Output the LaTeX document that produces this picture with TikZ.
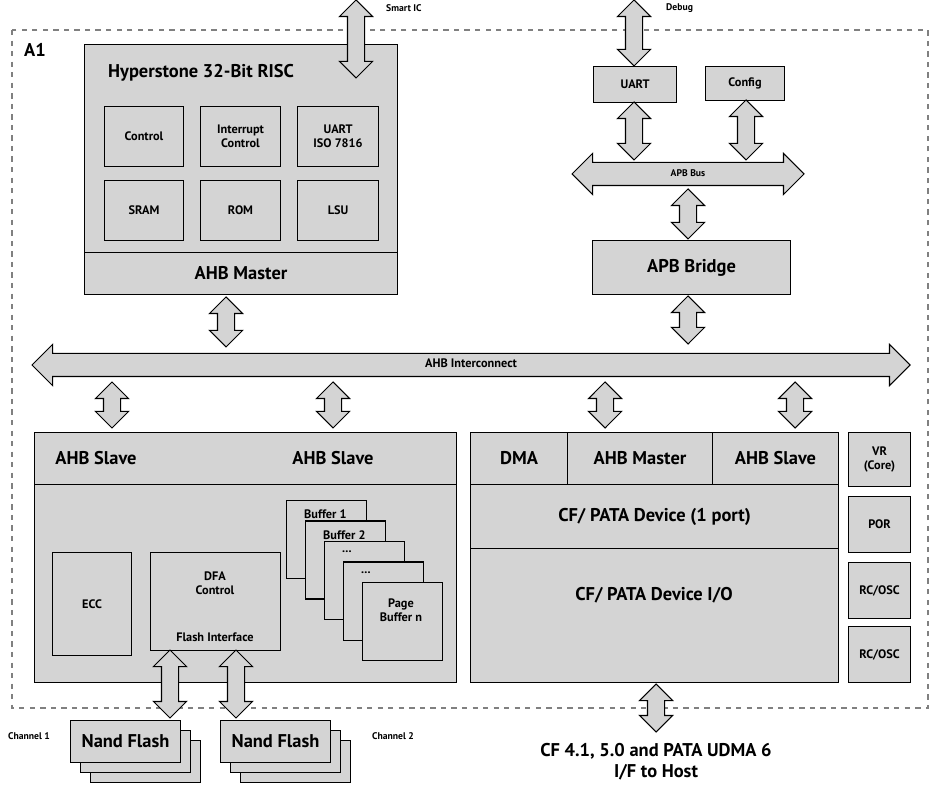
\documentclass[tikz,border=0pt]{standalone}
\usepackage{fontspec}
\setmainfont{PT Sans}
\setsansfont{PT Sans}
\usetikzlibrary{shapes.arrows}
\newlength\px
\setlength\px{0.02cm}
\newcommand\bufdots{...}
\definecolor{boxgray}{gray}{0.83}
\tikzset{
  box/.style={draw, fill=boxgray, line width=0.6pt, font=\sffamily\bfseries\fontsize{10.5}{12}\selectfont,
    align=center, inner sep=0pt, anchor=north west},
  small/.style={font=\sffamily\bfseries\fontsize{7}{8}\selectfont},
  tiny/.style={font=\sffamily\bfseries\fontsize{5.5}{6}\selectfont},
  varr/.style={double arrow, draw, fill=boxgray, line width=0.6pt, rotate=90, inner xsep=0pt,
    inner ysep=8\px, text height=0pt, text depth=0pt, double arrow head extend=8\px},
  harr/.style={double arrow, draw, fill=boxgray, line width=0.6pt, inner xsep=0pt,
    inner ysep=6\px, text height=8\px, text depth=2\px, double arrow head extend=9\px, tiny}
}
\begin{document}
\begin{tikzpicture}[x=0.02cm,y=-0.02cm]
\useasboundingbox (0,0) rectangle (940,793);
\draw[dashed, gray, line width=0.6pt] (12,30) rectangle (928,708);
\node[anchor=west, font=\sffamily\bfseries\fontsize{10.5}{12}\selectfont] (a1) at (18,50) {A1};

% CPU block
\node[box, minimum width=313\px, minimum height=250\px] (cpu) at (84,44) {};
\node[varr, minimum height=78\px] (aSmart) at (356,39) {};
\node[anchor=west, font=\sffamily\bfseries\fontsize{10.5}{12}\selectfont] (cpuT) at (102,73) {Hyperstone 32-Bit RISC};
\node[box, minimum width=313\px, minimum height=42\px] (cpuM) at (84,252) {AHB Master};
\node[box, small, minimum width=79\px, minimum height=60\px] (ctrl) at (104,106) {Control};
\node[box, small, minimum width=80\px, minimum height=60\px] (irq) at (200,106) {Interrupt\\Control};
\node[box, small, minimum width=81\px, minimum height=60\px] (uart0) at (297,106) {UART\\ISO 7816};
\node[box, small, minimum width=79\px, minimum height=60\px] (sram) at (104,180) {SRAM};
\node[box, small, minimum width=80\px, minimum height=60\px] (rom) at (200,180) {ROM};
\node[box, small, minimum width=81\px, minimum height=60\px] (lsu) at (297,180) {LSU};
\node[tiny, anchor=west] (lSmart) at (380,8) {Smart IC};

% APB side
\node[varr, minimum height=66\px] (aDebug) at (634,33) {};
\node[tiny, anchor=west] (lDebug) at (660,8) {Debug};
\node[box, small, minimum width=83\px, minimum height=36\px] (uart) at (593,66) {UART};
\node[box, small, minimum width=79\px, minimum height=34\px] (cfg) at (705,66) {Config};
\node[varr, minimum height=58\px] (aUart) at (634,131) {};
\node[varr, minimum height=60\px] (aCfg) at (746,130) {};
\node[harr, minimum height=232\px] (apb) at (688,174) {APB Bus};
\node[varr, minimum height=50\px] (aApb) at (688,214) {};
\node[box, minimum width=198\px, minimum height=54\px] (bridge) at (592,240) {APB Bridge};

% AHB interconnect
\node[varr, minimum height=50\px] (aCpu) at (226,322) {};
\node[varr, minimum height=48\px] (aBridge) at (688,320) {};
\node[harr, small, minimum height=878\px] (ahb) at (471,365) {AHB Interconnect};
\foreach \x/\n in {112/s1, 333/s2, 605/s3, 795/s4}
  \node[varr, minimum height=46\px] (a\n) at (\x,405) {};

% flash controller
\node[box, minimum width=422\px, minimum height=250\px] (fc) at (34,432) {};
\node[box, minimum width=422\px, minimum height=52\px] (fcH) at (34,432) {};
\node[font=\sffamily\bfseries\fontsize{10.5}{12}\selectfont] (sl1) at (96,458) {AHB Slave};
\node[font=\sffamily\bfseries\fontsize{10.5}{12}\selectfont] (sl2) at (333,458) {AHB Slave};
\node[box, small, minimum width=79\px, minimum height=103\px] (ecc) at (52,552) {ECC};
\node[box, small, minimum width=130\px, minimum height=98\px] (dfa) at (150,552) {};
\node[small, align=center, below=0pt] (dfaT) at (215,566) {DFA\\Control};
\node[small] (dfaF) at (215,637) {Flash Interface};
\foreach \i/\t in {0/Buffer 1, 1/Buffer 2, 2/\bufdots, 3/\bufdots} {
  \node[box, minimum width=80\px, minimum height=78\px] (buf\i) at (286+19*\i,500+20.5*\i) {};
  \node[small, anchor=north west] (bufT\i) at (298+19*\i,504+20.5*\i) {\t};
}
\node[box, small, minimum width=80\px, minimum height=78\px] (buf4) at (362,582) {};
\node[small, align=center] (buf4T) at (401,610) {Page\\Buffer n};

% CF/PATA block
\node[box, minimum width=368\px, minimum height=250\px] (cf) at (470,432) {};
\node[box, minimum width=97\px, minimum height=52\px] (dma) at (470,432) {DMA};
\node[box, minimum width=145\px, minimum height=52\px] (cfM) at (567,432) {AHB Master};
\node[box, minimum width=126\px, minimum height=52\px] (cfS) at (712,432) {AHB Slave};
\node[box, minimum width=368\px, minimum height=64\px] (cfD) at (470,484) {CF/ PATA Device (1 port)};
\node[box, minimum width=368\px, minimum height=134\px] (cfIO) at (470,548) {};
\node[font=\sffamily\bfseries\fontsize{10.5}{12}\selectfont] (cfIOT) at (654,595) {CF/ PATA Device I/O};

% side blocks
\node[box, small, minimum width=62\px, minimum height=54\px] (vr) at (848,432) {VR\\(Core)};
\node[box, small, minimum width=62\px, minimum height=56\px] (por) at (848,496) {POR};
\node[box, small, minimum width=62\px, minimum height=56\px] (osc1) at (848,562) {RC/OSC};
\node[box, small, minimum width=62\px, minimum height=56\px] (osc2) at (848,626) {RC/OSC};

% nand flash
\node[varr, minimum height=68\px] (aCh1) at (170,684) {};
\node[varr, minimum height=68\px] (aCh2) at (236,684) {};
\foreach \i in {2,1,0} {
  \node[box, minimum width=110\px, minimum height=42\px] (nfA\i) at (70+10*\i,720+10*\i) {};
  \node[box, minimum width=110\px, minimum height=42\px] (nfB\i) at (220+10*\i,720+10*\i) {};
}
\node[font=\sffamily\bfseries\fontsize{10.5}{12}\selectfont] (nfAT) at (nfA0) {Nand Flash};
\node[font=\sffamily\bfseries\fontsize{10.5}{12}\selectfont] (nfBT) at (nfB0) {Nand Flash};
\node[tiny, anchor=west] (lCh1) at (2,736) {Channel 1};
\node[tiny, anchor=west] (lCh2) at (366,736) {Channel 2};

% host
\node[varr, minimum height=48\px] (aHost) at (656,708) {};
\node[font=\sffamily\bfseries\fontsize{10.5}{12}\selectfont, align=center] (host) at (656,762)
  {CF 4.1, 5.0 and PATA UDMA 6\\I/F to Host};
\end{tikzpicture}
\end{document}
